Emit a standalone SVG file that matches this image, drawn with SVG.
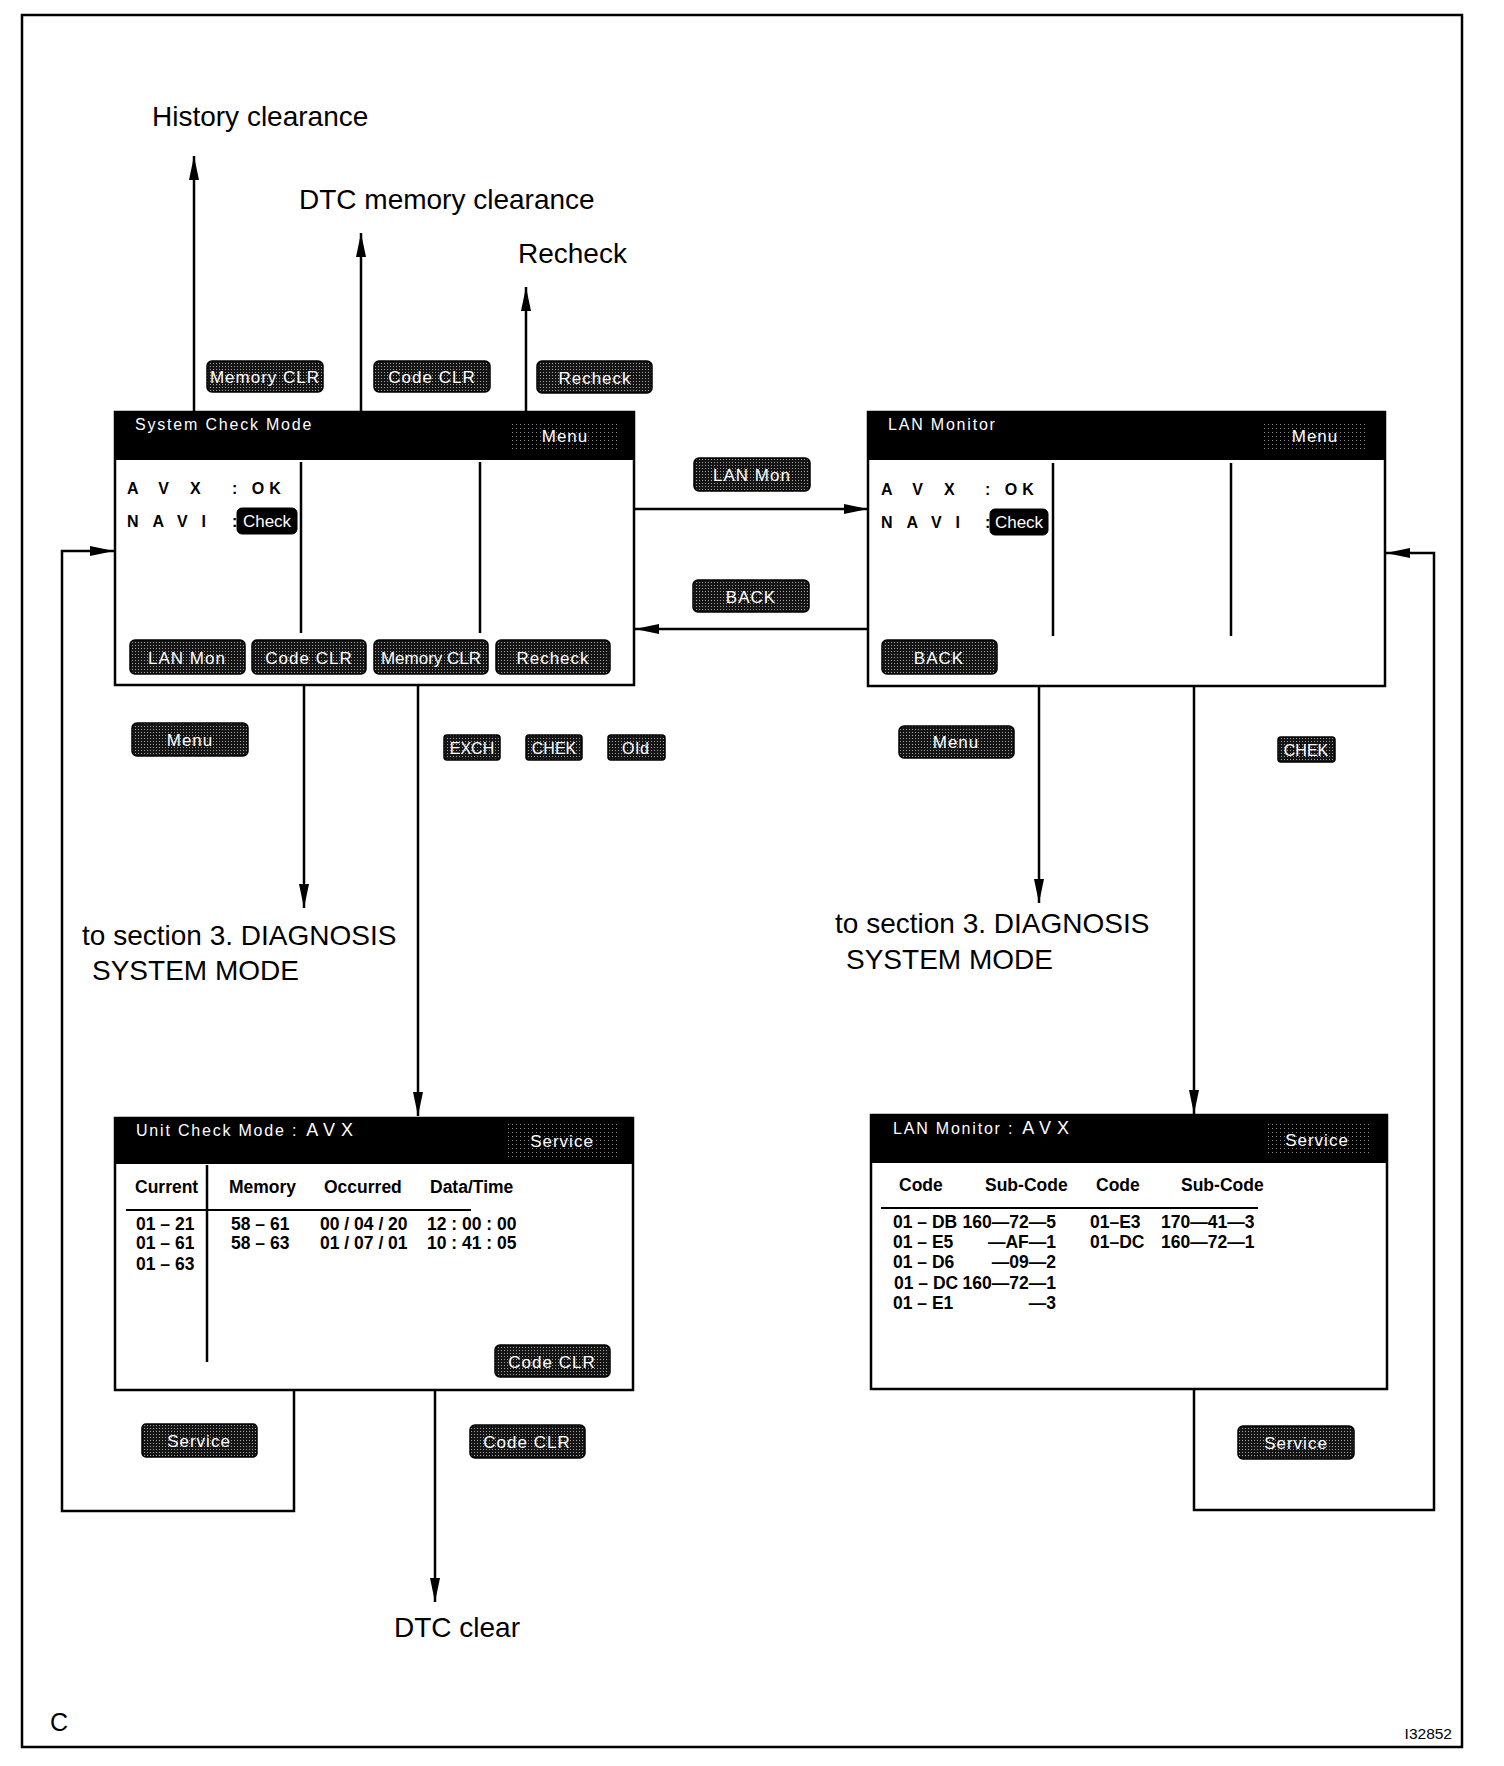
<svg xmlns="http://www.w3.org/2000/svg" width="1504" height="1766" viewBox="0 0 1504 1766">
<defs>
<pattern id="dots" width="3" height="3" patternUnits="userSpaceOnUse"><rect width="3" height="3" fill="#151515"/><rect width="1" height="1" fill="#a0a0a0"/></pattern>
<pattern id="hdots" width="4" height="4" patternUnits="userSpaceOnUse"><rect width="4" height="4" fill="#000"/><rect width="1" height="1" fill="#8a8a8a"/></pattern>
<marker id="ah" markerWidth="26" markerHeight="12" refX="24" refY="6" orient="auto" markerUnits="userSpaceOnUse"><path d="M0,1 L24,6 L0,11 z" fill="#000"/></marker>
</defs>
<style>
text{font-family:"Liberation Sans",Arial,Helvetica,sans-serif}
.lbl{font-size:28px;fill:#000}
.frame{fill:#fff;stroke:#000;stroke-width:2.5}
.hdr{fill:#000}
.ttl{font-size:16px;fill:#fff;letter-spacing:1.8px}
.btn{fill:url(#dots);stroke:#000;stroke-width:1.5}
.hbtn{fill:url(#hdots)}
.bt{font-size:17px;fill:#fff;letter-spacing:1px;text-anchor:middle}
.chk{fill:#000;stroke:#000}
.b{font-size:16px;font-weight:bold;fill:#000}
.t{font-size:17.5px;font-weight:bold;fill:#000}
.col{stroke:#000;stroke-width:2.5}
.con{fill:none;stroke:#000;stroke-width:2.5}
.arr{fill:none;stroke:#000;stroke-width:2.5;marker-end:url(#ah)}
</style>
<rect x="22" y="15" width="1440" height="1732" fill="#fff" stroke="#000" stroke-width="2.5"/>

<g id="labels">
<text class="lbl" x="152" y="126">History clearance</text>
<text class="lbl" x="299" y="209">DTC memory clearance</text>
<text class="lbl" x="518" y="263">Recheck</text>
<text class="lbl" x="82" y="945">to section 3. DIAGNOSIS</text>
<text class="lbl" x="92" y="980">SYSTEM MODE</text>
<text class="lbl" x="835" y="933">to section 3. DIAGNOSIS</text>
<text class="lbl" x="846" y="969">SYSTEM MODE</text>
<text class="lbl" x="394" y="1637">DTC clear</text>
<text x="50" y="1731" font-size="25">C</text>
<text x="1452" y="1739" font-size="15.5" text-anchor="end">I32852</text>
</g>

<g id="connectors">
<line class="arr" x1="194" y1="412" x2="194" y2="156"/>
<line class="arr" x1="361" y1="412" x2="361" y2="233"/>
<line class="arr" x1="526" y1="412" x2="526" y2="287"/>
<line class="arr" x1="634" y1="509" x2="868" y2="509"/>
<line class="arr" x1="868" y1="629" x2="635" y2="629"/>
<polyline class="arr" points="294,1390 294,1511 62,1511 62,551 114,551"/>
<polyline class="arr" points="1194,1389 1194,1510 1434,1510 1434,553 1386,553"/>
<line class="arr" x1="304" y1="685" x2="304" y2="908"/>
<line class="arr" x1="418" y1="685" x2="418" y2="1116"/>
<line class="arr" x1="1039" y1="686" x2="1039" y2="903"/>
<line class="arr" x1="1194" y1="686" x2="1194" y2="1114"/>
<line class="arr" x1="435" y1="1390" x2="435" y2="1602"/>
</g>

<g id="btn-memclr-top"><rect class="btn" x="207" y="361" width="116" height="31" rx="5"/><text class="bt" x="265" y="383">Memory CLR</text></g>
<g id="btn-codeclr-top"><rect class="btn" x="374" y="361" width="116" height="31" rx="5"/><text class="bt" x="432" y="383">Code CLR</text></g>
<g id="btn-recheck-top"><rect class="btn" x="537" y="361" width="115" height="32" rx="5"/><text class="bt" x="595" y="384">Recheck</text></g>
<g id="btn-lanmon"><rect class="btn" x="694" y="458" width="116" height="33" rx="5"/><text class="bt" x="752" y="481">LAN Mon</text></g>
<g id="btn-back"><rect class="btn" x="693" y="580" width="116" height="32" rx="5"/><text class="bt" x="751" y="603">BACK</text></g>
<g id="btn-menu-l"><rect class="btn" x="132" y="723" width="116" height="33" rx="5"/><text class="bt" x="190" y="746">Menu</text></g>
<g id="btn-exch"><rect class="btn" x="444" y="735" width="56" height="25" rx="3"/><text class="bt" x="472" y="754" style="font-size:16px;letter-spacing:0">EXCH</text></g>
<g id="btn-chek-l"><rect class="btn" x="526" y="735" width="56" height="25" rx="3"/><text class="bt" x="554" y="754" style="font-size:16px;letter-spacing:0">CHEK</text></g>
<g id="btn-old"><rect class="btn" x="608" y="735" width="57" height="25" rx="3"/><text class="bt" x="636" y="754" style="font-size:16px">Old</text></g>
<g id="btn-menu-r"><rect class="btn" x="899" y="726" width="115" height="32" rx="5"/><text class="bt" x="956" y="748">Menu</text></g>
<g id="btn-chek-r"><rect class="btn" x="1278" y="737" width="57" height="25" rx="3"/><text class="bt" x="1306" y="756" style="font-size:16px;letter-spacing:0">CHEK</text></g>
<g id="btn-service-l"><rect class="btn" x="142" y="1424" width="115" height="33" rx="4"/><text class="bt" x="199" y="1447">Service</text></g>
<g id="btn-codeclr-b"><rect class="btn" x="470" y="1425" width="115" height="33" rx="5"/><text class="bt" x="527" y="1448">Code CLR</text></g>
<g id="btn-service-r"><rect class="btn" x="1238" y="1426" width="116" height="33" rx="5"/><text class="bt" x="1296" y="1449">Service</text></g>

<g id="system-check-mode">
<rect class="frame" x="115" y="412" width="519" height="273"/>
<rect class="hdr" x="115" y="412" width="519" height="48"/>
<text class="ttl" x="135" y="430">System Check Mode</text>
<rect class="hbtn" x="512" y="421" width="106" height="28"/>
<text class="bt" x="565" y="442">Menu</text>
<line class="col" x1="301" y1="462" x2="301" y2="633"/>
<line class="col" x1="480" y1="462" x2="480" y2="633"/>
<text class="b" x="127" y="494" style="letter-spacing:21px">AVX</text>
<text class="b" x="232" y="494" style="letter-spacing:5px">: OK</text>
<text class="b" x="127" y="527" style="letter-spacing:14px">NAVI</text>
<text class="b" x="232" y="527">:</text>
<rect class="chk" x="237" y="508" width="60" height="26" rx="5"/>
<text class="bt" x="267" y="527" style="letter-spacing:0">Check</text>
<rect class="btn" x="130" y="640" width="115" height="34" rx="5"/><text class="bt" x="187" y="664">LAN Mon</text>
<rect class="btn" x="252" y="640" width="114" height="34" rx="5"/><text class="bt" x="309" y="664">Code CLR</text>
<rect class="btn" x="374" y="640" width="114" height="34" rx="5"/><text class="bt" x="431" y="664" style="letter-spacing:0">Memory CLR</text>
<rect class="btn" x="496" y="640" width="114" height="34" rx="5"/><text class="bt" x="553" y="664">Recheck</text>
</g>

<g id="lan-monitor">
<rect class="frame" x="868" y="412" width="517" height="274"/>
<rect class="hdr" x="868" y="412" width="517" height="48"/>
<text class="ttl" x="888" y="430">LAN Monitor</text>
<rect class="hbtn" x="1262" y="421" width="106" height="28"/>
<text class="bt" x="1315" y="442">Menu</text>
<line class="col" x1="1053" y1="463" x2="1053" y2="636"/>
<line class="col" x1="1231" y1="463" x2="1231" y2="636"/>
<text class="b" x="881" y="495" style="letter-spacing:21px">AVX</text>
<text class="b" x="985" y="495" style="letter-spacing:5px">: OK</text>
<text class="b" x="881" y="528" style="letter-spacing:14px">NAVI</text>
<text class="b" x="985" y="528">:</text>
<rect class="chk" x="990" y="509" width="58" height="26" rx="5"/>
<text class="bt" x="1019" y="528" style="letter-spacing:0">Check</text>
<rect class="btn" x="882" y="640" width="115" height="34" rx="5"/><text class="bt" x="939" y="664">BACK</text>
</g>

<g id="unit-check-mode">
<rect class="frame" x="115" y="1118" width="518" height="272"/>
<rect class="hdr" x="115" y="1118" width="518" height="46"/>
<text class="ttl" x="136" y="1136">Unit Check Mode :<tspan dx="8" style="letter-spacing:6px;font-size:18px">AVX</tspan></text>
<rect class="hbtn" x="505" y="1124" width="113" height="33"/>
<text class="bt" x="562" y="1147">Service</text>
<line class="col" x1="207" y1="1165" x2="207" y2="1362"/>
<line x1="126" y1="1210" x2="471" y2="1210" stroke="#000" stroke-width="2"/>
<text class="t" x="135" y="1193">Current</text>
<text class="t" x="229" y="1193">Memory</text>
<text class="t" x="324" y="1193">Occurred</text>
<text class="t" x="430" y="1193">Data/Time</text>
<text class="t" x="136" y="1230">01 – 21</text>
<text class="t" x="136" y="1249">01 – 61</text>
<text class="t" x="136" y="1270">01 – 63</text>
<text class="t" x="231" y="1230">58 – 61</text>
<text class="t" x="231" y="1249">58 – 63</text>
<text class="t" x="320" y="1230">00 / 04 / 20</text>
<text class="t" x="320" y="1249">01 / 07 / 01</text>
<text class="t" x="427" y="1230">12 : 00 : 00</text>
<text class="t" x="427" y="1249">10 : 41 : 05</text>
<rect class="btn" x="495" y="1345" width="115" height="32" rx="5"/><text class="bt" x="552" y="1368">Code CLR</text>
</g>

<g id="lan-monitor-avx">
<rect class="frame" x="871" y="1115" width="516" height="274"/>
<rect class="hdr" x="871" y="1115" width="516" height="48"/>
<text class="ttl" x="893" y="1134">LAN Monitor :<tspan dx="8" style="letter-spacing:6px;font-size:18px">AVX</tspan></text>
<rect class="hbtn" x="1266" y="1123" width="103" height="33"/>
<text class="bt" x="1317" y="1146">Service</text>
<line x1="881" y1="1208" x2="1258" y2="1208" stroke="#000" stroke-width="2"/>
<text class="t" x="899" y="1191">Code</text>
<text class="t" x="985" y="1191">Sub-Code</text>
<text class="t" x="1096" y="1191">Code</text>
<text class="t" x="1181" y="1191">Sub-Code</text>
<text class="t" x="893" y="1228">01 – DB</text>
<text class="t" x="893" y="1248">01 – E5</text>
<text class="t" x="893" y="1268">01 – D6</text>
<text class="t" x="894" y="1289">01 – DC</text>
<text class="t" x="893" y="1309">01 – E1</text>
<g text-anchor="end">
<text class="t" x="1056" y="1228">160—72—5</text>
<text class="t" x="1056" y="1248">—AF—1</text>
<text class="t" x="1056" y="1268">—09—2</text>
<text class="t" x="1056" y="1289">160—72—1</text>
<text class="t" x="1056" y="1309">—3</text>
</g>
<text class="t" x="1090" y="1228">01–E3</text>
<text class="t" x="1090" y="1248">01–DC</text>
<text class="t" x="1161" y="1228">170—41—3</text>
<text class="t" x="1161" y="1248">160—72—1</text>
</g>
</svg>
